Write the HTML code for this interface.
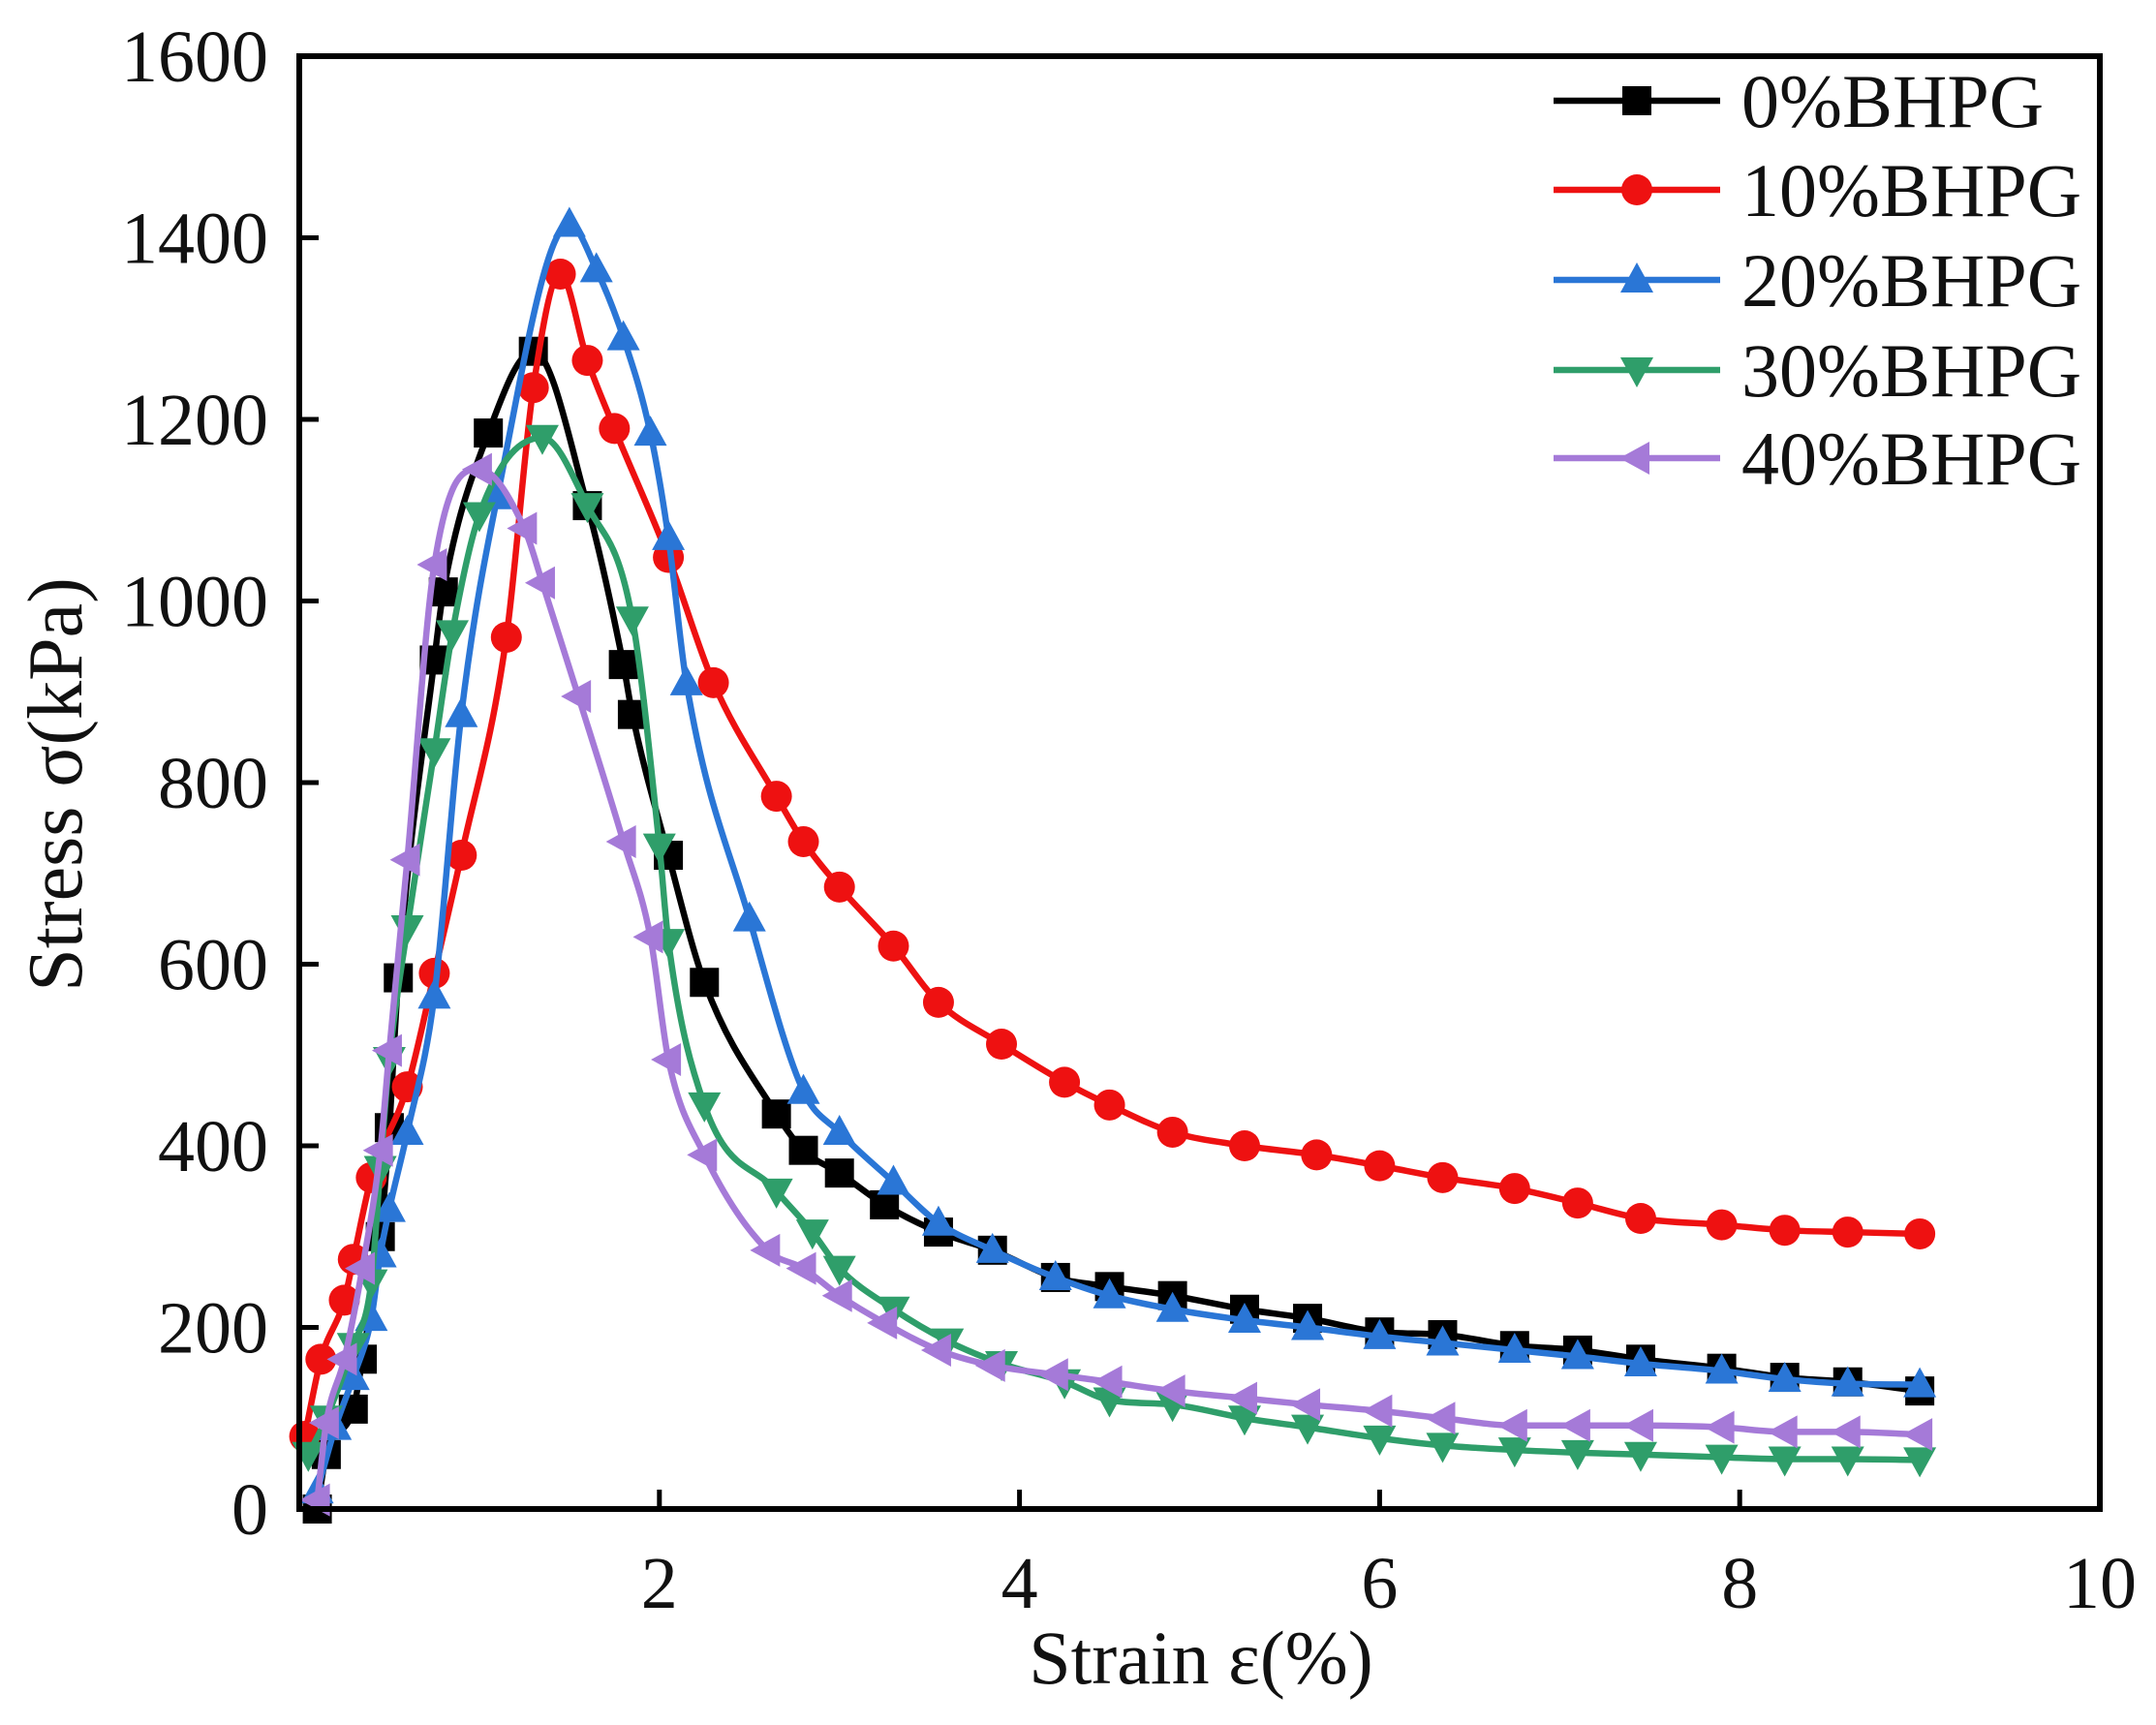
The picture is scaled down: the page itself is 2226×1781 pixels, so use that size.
<!DOCTYPE html>
<html><head><meta charset="utf-8"><style>
html,body{margin:0;padding:0;background:#fff;}
svg{display:block;}
text{font-family:"Liberation Serif",serif;fill:#111;}
</style></head><body>
<svg id="chart" width="2226" height="1781" viewBox="0 0 2226 1781" xmlns="http://www.w3.org/2000/svg">
<g id="plot"></g>
</svg>
<script>
const seriesNames = ["0%BHPG","10%BHPG","20%BHPG","30%BHPG","40%BHPG"];
const seriesColors = ["#000000","#ee1111","#2a76d6","#2f9e6a","#a57ad8"];
const xTicks = [2,4,6,8,10];
const yTicks = [0,200,400,600,800,1000,1200,1400,1600];
const s0x = [0.1,0.15,0.3,0.35,0.45,0.5,0.55,0.75,0.8,1.05,1.3,1.6,1.8,1.85,2.05,2.25,2.65,2.8,3.0,3.25,3.55,3.85,4.2,4.5,4.85,5.25,5.6,6.0,6.35,6.75,7.1,7.45,7.9,8.25,8.6,9.0];
const s0y = [0,60,110,165,300,420,585,935,1010,1185,1275,1105,930,875,720,580,435,395,370,335,305,285,255,245,235,220,210,195,192,180,175,165,155,145,140,130];
const s1x = [0.03,0.12,0.25,0.3,0.4,0.6,0.75,0.9,1.15,1.3,1.45,1.6,1.75,2.05,2.3,2.65,2.8,3.0,3.3,3.55,3.9,4.25,4.5,4.85,5.25,5.65,6.0,6.35,6.75,7.1,7.45,7.9,8.25,8.6,9.0];
const s1y = [80,165,230,275,365,465,590,720,960,1235,1360,1265,1190,1048,910,785,735,685,620,558,512,470,445,415,400,390,378,365,353,337,320,313,307,305,303];
const s2x = [0.1,0.2,0.3,0.4,0.45,0.5,0.6,0.75,0.9,1.1,1.5,1.65,1.8,1.95,2.05,2.15,2.5,2.8,3.0,3.3,3.55,3.85,4.2,4.5,4.85,5.25,5.6,6.0,6.35,6.75,7.1,7.45,7.9,8.25,8.6,9.0];
const s2y = [20,90,145,210,280,330,415,565,875,1115,1415,1365,1290,1185,1070,910,650,460,415,360,315,285,255,235,220,208,200,190,183,175,168,160,152,143,138,137];
const s3x = [0.05,0.15,0.3,0.4,0.45,0.5,0.6,0.75,0.85,1.0,1.35,1.6,1.85,2.0,2.05,2.25,2.65,2.85,3.0,3.3,3.6,3.9,4.25,4.5,4.85,5.25,5.6,6.0,6.35,6.75,7.1,7.45,7.9,8.25,8.6,9.0];
const s3y = [60,100,180,250,375,495,640,835,965,1095,1180,1105,980,730,625,445,350,305,265,220,185,160,140,120,115,100,90,78,70,65,62,60,57,55,55,54];
const s4x = [0.1,0.15,0.25,0.35,0.45,0.5,0.6,0.75,1.0,1.25,1.35,1.55,1.8,1.95,2.05,2.25,2.6,2.8,3.0,3.25,3.55,3.85,4.2,4.5,4.85,5.25,5.6,6.0,6.35,6.75,7.1,7.45,7.9,8.25,8.6,9.0];
const s4y = [10,95,165,265,395,505,715,1040,1145,1080,1020,895,735,630,495,390,285,265,235,205,175,158,148,140,130,122,115,108,100,92,92,92,90,85,85,82];
const allX=[s0x,s1x,s2x,s3x,s4x], allY=[s0y,s1y,s2y,s3y,s4y];
const markers=["square","circle","up","down","left"];

const X0=309,X1=2168,Y0=1558,Y1=58;
const xs=v=>X0+(v/10)*(X1-X0);
const ys=v=>Y0-(v/1600)*(Y0-Y1);
const NS="http://www.w3.org/2000/svg";
const svg=document.getElementById('chart');
function mk(t,a,p){const e=document.createElementNS(NS,t);for(const k in a)e.setAttribute(k,a[k]);(p||svg).appendChild(e);return e;}

function markerEl(type,cx,cy,col,parent){
  const r=16;let e;
  if(type==="square") e=mk('rect',{x:cx-r+1,y:cy-r+1,width:2*r-2,height:2*r-2,fill:col},parent);
  else if(type==="circle") e=mk('circle',{cx:cx,cy:cy,r:r,fill:col},parent);
  else{
    let pts;
    if(type==="up") pts=[[cx,cy-r-2],[cx-r-1,cy+r-3],[cx+r+1,cy+r-3]];
    else if(type==="down") pts=[[cx,cy+r+2],[cx-r-1,cy-r+3],[cx+r+1,cy-r+3]];
    else pts=[[cx-r-2,cy],[cx+r-3,cy-r-1],[cx+r-3,cy+r+1]];
    e=mk('polygon',{points:pts.map(p=>p.join(',')).join(' '),fill:col},parent);
  }
  return e;
}
// monotone cubic (Fritsch-Carlson) through pixel points
function smoothPath(px,py){
  const n=px.length, d=[], m=new Array(n);
  for(let i=0;i<n-1;i++) d.push((py[i+1]-py[i])/(px[i+1]-px[i]));
  m[0]=d[0]; m[n-1]=d[n-2];
  for(let i=1;i<n-1;i++) m[i]=(d[i-1]*d[i]<=0)?0:(d[i-1]+d[i])/2;
  for(let i=0;i<n-1;i++){
    if(d[i]===0){m[i]=0;m[i+1]=0;continue;}
    const a=m[i]/d[i], b=m[i+1]/d[i], s=a*a+b*b;
    if(s>9){const t=3/Math.sqrt(s);m[i]=t*a*d[i];m[i+1]=t*b*d[i];}
  }
  let p=`M${px[0]},${py[0]}`;
  for(let i=0;i<n-1;i++){
    const h=(px[i+1]-px[i])/3;
    p+=` C${px[i]+h},${py[i]+m[i]*h} ${px[i+1]-h},${py[i+1]-m[i+1]*h} ${px[i+1]},${py[i+1]}`;
  }
  return p;
}
const plot=document.getElementById('plot');
for(let s=0;s<5;s++){
  const g=mk('g',{},plot);
  
  
  const px=allX[s].map(xs), py=allY[s].map(ys);
  const ln=mk('path',{d:smoothPath(px,py),fill:'none',stroke:seriesColors[s],'stroke-width':6.5},g);
  
  
  for(let i=0;i<px.length;i++){
    const m=markerEl(markers[s],px[i],py[i],seriesColors[s],g);
    
    
  }
}
const fr=mk('rect',{x:X0,y:Y1,width:X1-X0,height:Y0-Y1,fill:'none',stroke:'#000','stroke-width':6});


for(const v of yTicks){
  const y=ys(v);
  if(v>0&&v<1600){const t=mk('line',{x1:X0,x2:X0+20,y1:y,y2:y,stroke:'#000','stroke-width':5});
  
  }
  const l=mk('text',{x:277,y:y+26,'text-anchor':'end','font-size':76});
  l.textContent=v;
  
  
}
for(const v of xTicks){
  const x=xs(v);
  if(v<10){const t=mk('line',{x1:x,x2:x,y1:Y0,y2:Y0-20,stroke:'#000','stroke-width':5});
  
  }
  const l=mk('text',{x:x,y:1660,'text-anchor':'middle','font-size':76});
  l.textContent=v;
  
  
}
const xt=mk('text',{x:1240,y:1738,'text-anchor':'middle','font-size':78});
xt.textContent='Strain ε(%)';


const yt=mk('text',{x:0,y:0,'text-anchor':'middle','font-size':80,transform:'translate(84,810) rotate(-90)'});
yt.textContent='Stress σ(kPa)';


const lg=mk('g',{});


const legY=[104,196,289,382,473];
for(let s=0;s<5;s++){
  const g=mk('g',{},lg);
  
  
  mk('line',{x1:1604,x2:1776,y1:legY[s],y2:legY[s],stroke:seriesColors[s],'stroke-width':6.5},g);
  markerEl(markers[s],1690,legY[s],seriesColors[s],g);
  const t=mk('text',{x:1798,y:legY[s]+27,'font-size':78},g);
  t.textContent=seriesNames[s];
}
</script>
</body></html>
